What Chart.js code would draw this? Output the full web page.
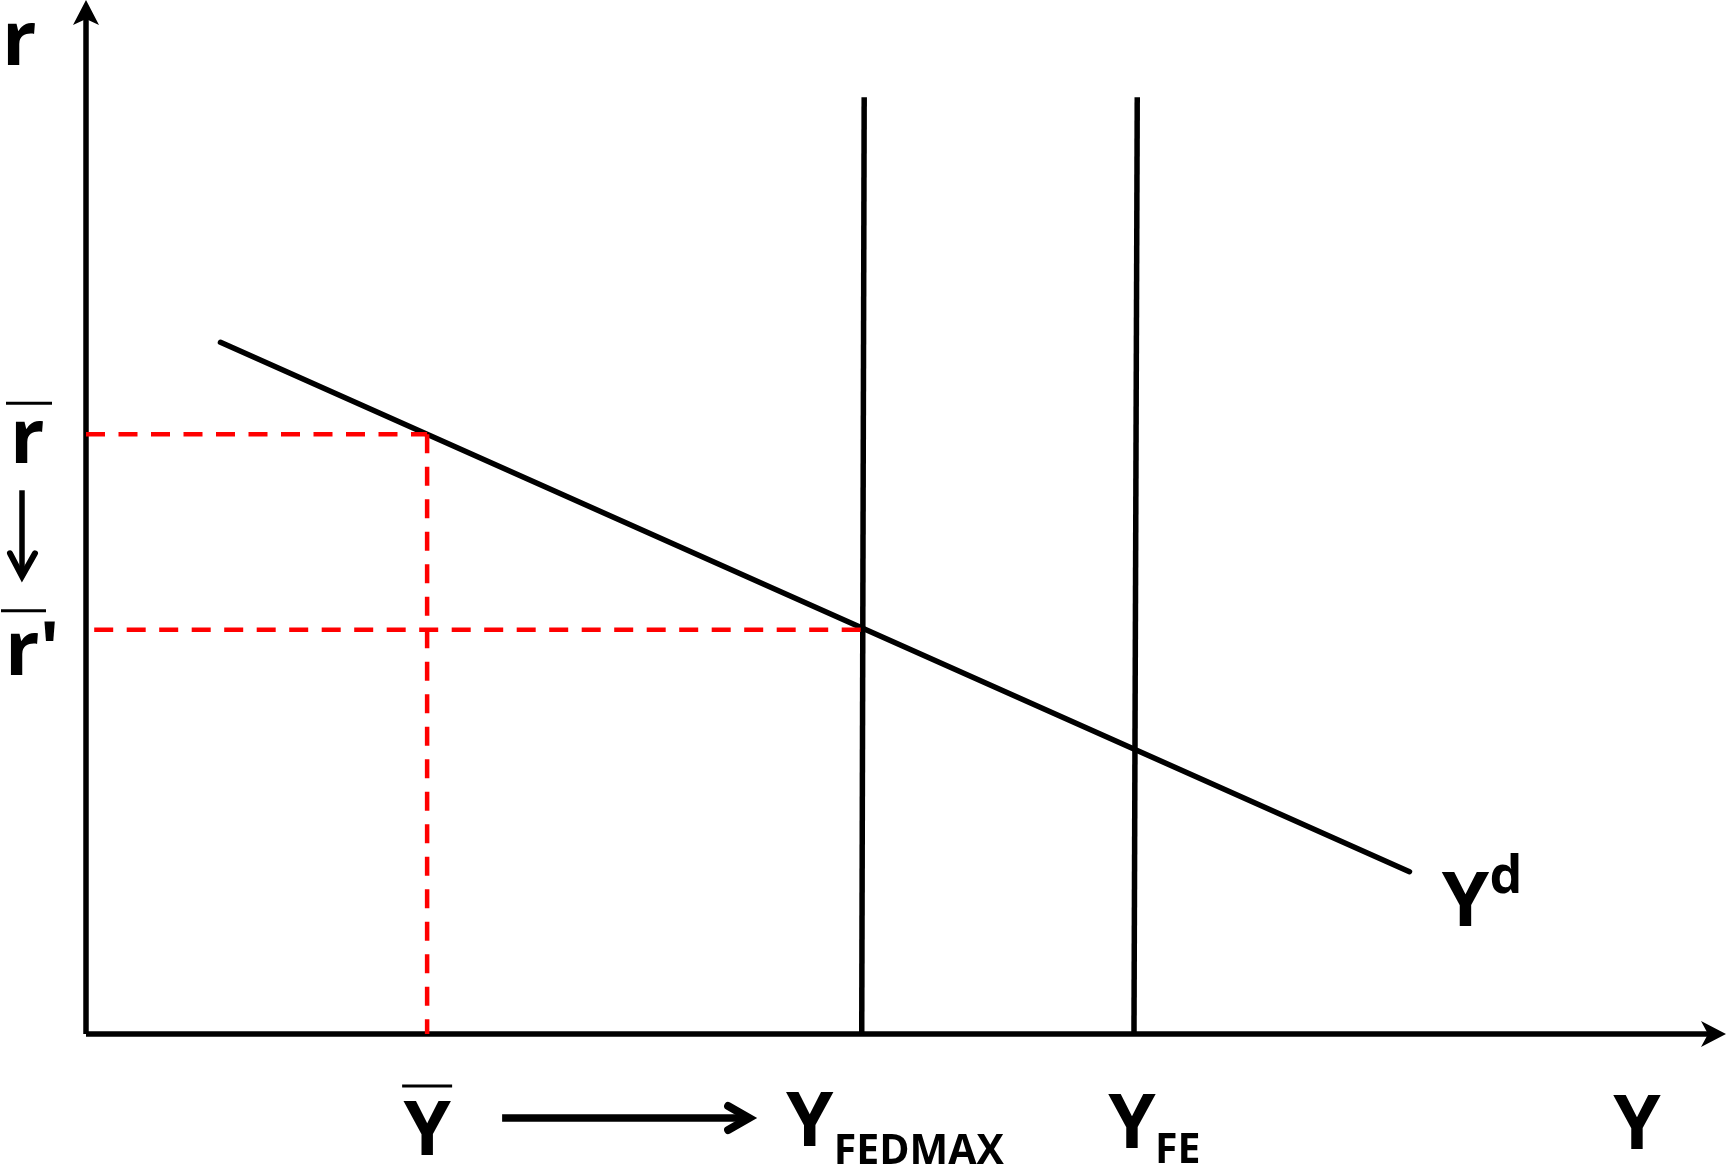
<!DOCTYPE html>
<html>
<head>
<meta charset="utf-8">
<title>Yd, YFEDMAX, YFE</title>
<script src="https://cdn.jsdelivr.net/npm/chart.js@4.4.1/dist/chart.umd.min.js"></script>
<style>
  html, body { margin: 0; padding: 0; background: #fff; overflow: hidden; }
  canvas { display: block; }
</style>
</head>
<body>
<canvas id="chart" width="1726" height="1171"></canvas>
<script>
// values in chart units (0..100 on both axes)
const ydX = [8.2, 80.7];          // aggregate demand Yd
const ydY = [66.9, 15.7];
const fedmaxX = [47.45, 47.3];    // vertical line Y FEDMAX
const fedmaxY = [90.6, 0];
const feX = [64.1, 63.9];         // vertical line Y FE
const feY = [90.6, 0];
const rBar = 58.0;                // r bar level
const rPrime = 39.1;              // r' bar level
const yBar = 20.8;                // Y bar
const rDashStart = 0.5;           // r' dashes start slightly right of the axis
const axisMax = 100;

document.addEventListener('DOMContentLoaded', () => {
    const ctx = document.getElementById('chart').getContext('2d');
    const FONT = '"Open Sans", "DejaVu Sans", sans-serif';

    function pts(xs, ys) {
        return xs.map((x, i) => ({ x: x, y: ys[i] }));
    }

    const black = { borderColor: '#000', borderWidth: 5.5, pointRadius: 0, showLine: true, clip: false, fill: false };
    const redDash = { borderColor: '#ff0000', borderWidth: 4.5, borderDash: [19, 13.5], pointRadius: 0, showLine: true, clip: false, fill: false };

    function text(c, str, x, y, size, align) {
        c.font = 'bold ' + size + 'px ' + FONT;
        c.textAlign = align || 'center';
        c.textBaseline = 'alphabetic';
        c.fillText(str, x, y);
    }

    function line(c, x1, y1, x2, y2, w, cap) {
        c.beginPath();
        c.lineWidth = w;
        c.lineCap = cap || 'butt';
        c.moveTo(x1, y1);
        c.lineTo(x2, y2);
        c.stroke();
    }

    // arrow heads, labels and the little arrows
    const decor = {
        id: 'decor',
        afterDatasetsDraw(chart) {
            const c = chart.ctx;
            const xs = chart.scales.x, ys = chart.scales.y;
            const x0 = xs.getPixelForValue(0), y0 = ys.getPixelForValue(0);
            const xEnd = xs.getPixelForValue(axisMax), yTop = ys.getPixelForValue(axisMax);
            c.save();
            c.fillStyle = '#000';
            c.strokeStyle = '#000';

            // y axis arrow head
            c.beginPath();
            c.moveTo(x0, yTop);
            c.lineTo(x0 - 13, yTop + 25);
            c.lineTo(x0, yTop + 19);
            c.lineTo(x0 + 13, yTop + 25);
            c.closePath();
            c.fill();
            // x axis arrow head
            c.beginPath();
            c.moveTo(xEnd, y0);
            c.lineTo(xEnd - 25, y0 - 13);
            c.lineTo(xEnd - 18, y0);
            c.lineTo(xEnd - 25, y0 + 13);
            c.closePath();
            c.fill();

            // left side labels
            text(c, 'r', 2, 65, 76, 'left');
            const rBarPx = ys.getPixelForValue(rBar);
            const rPrimePx = ys.getPixelForValue(rPrime);
            line(c, 6, rBarPx - 31, 52, rBarPx - 31, 3);
            text(c, 'r', 10, rBarPx + 29, 76, 'left');
            // down arrow r -> r'
            line(c, 22, rBarPx + 56, 22, rBarPx + 140, 5.5, 'butt');
            c.beginPath();
            c.lineWidth = 6;
            c.lineCap = 'round';
            c.lineJoin = 'miter';
            c.moveTo(10, rBarPx + 119);
            c.lineTo(22, rBarPx + 142);
            c.lineTo(35, rBarPx + 119);
            c.stroke();
            line(c, 1, rPrimePx - 19, 46, rPrimePx - 19, 3);
            text(c, "r'", 5, rPrimePx + 45, 76, 'left');

            // labels under the x axis
            const yBarPx = xs.getPixelForValue(yBar);
            line(c, yBarPx - 25, y0 + 52, yBarPx + 25, y0 + 52, 3);
            text(c, 'Y', yBarPx, y0 + 121, 76);
            // arrow Y bar -> Y FEDMAX
            line(c, yBarPx + 75, y0 + 84, yBarPx + 320, y0 + 84, 7.5, 'butt');
            c.beginPath();
            c.lineWidth = 8;
            c.lineCap = 'round';
            c.lineJoin = 'miter';
            c.moveTo(yBarPx + 301, y0 + 72);
            c.lineTo(yBarPx + 322, y0 + 84);
            c.lineTo(yBarPx + 301, y0 + 96);
            c.stroke();

            const fedPx = xs.getPixelForValue(fedmaxX[1]);
            text(c, 'Y', fedPx - 52, y0 + 112, 76);
            text(c, 'FEDMAX', fedPx - 28, y0 + 130, 41, 'left');
            const fePx = xs.getPixelForValue(feX[1]);
            text(c, 'Y', fePx - 2, y0 + 114, 76);
            text(c, 'FE', fePx + 21, y0 + 129, 41, 'left');
            text(c, 'Y', xEnd - 89, y0 + 115, 76);

            // Yd label near the end of the curve
            const ydEndX = xs.getPixelForValue(ydX[1]);
            const ydEndY = ys.getPixelForValue(ydY[1]);
            text(c, 'Y', ydEndX + 56, ydEndY + 54, 76);
            text(c, 'd', ydEndX + 80, ydEndY + 21, 52, 'left');
            c.restore();
        }
    };

    new Chart(ctx, {
        type: 'scatter',
        data: {
            datasets: [
                Object.assign({ label: 'r bar', data: pts([0, yBar], [rBar, rBar]) }, redDash),
                Object.assign({ label: 'Y bar', data: pts([yBar, yBar], [rBar, 0]) }, redDash),
                Object.assign({ label: "r'", data: pts([rDashStart, fedmaxX[0]], [rPrime, rPrime]) }, redDash),
                Object.assign({ label: 'x axis', data: pts([0, axisMax - 0.9], [0, 0]) }, black),
                Object.assign({ label: 'y axis', data: pts([0, 0], [0, axisMax - 1.5]) }, black),
                Object.assign({ label: 'Yd', data: pts(ydX, ydY) }, black, { borderWidth: 5.5, borderCapStyle: 'round' }),
                Object.assign({ label: 'YFEDMAX', data: pts(fedmaxX, fedmaxY) }, black),
                Object.assign({ label: 'YFE', data: pts(feX, feY) }, black)
            ]
        },
        options: {
            responsive: false,
            devicePixelRatio: 1,
            animation: false,
            layout: { padding: { left: 86, right: 0, top: 0, bottom: 137 } },
            plugins: {
                legend: { display: false },
                tooltip: { enabled: false },
                title: { display: false }
            },
            scales: {
                x: { type: 'linear', min: 0, max: axisMax, display: false },
                y: { type: 'linear', min: 0, max: axisMax, display: false }
            }
        },
        plugins: [decor]
    });
});
</script>
</body>
</html>
